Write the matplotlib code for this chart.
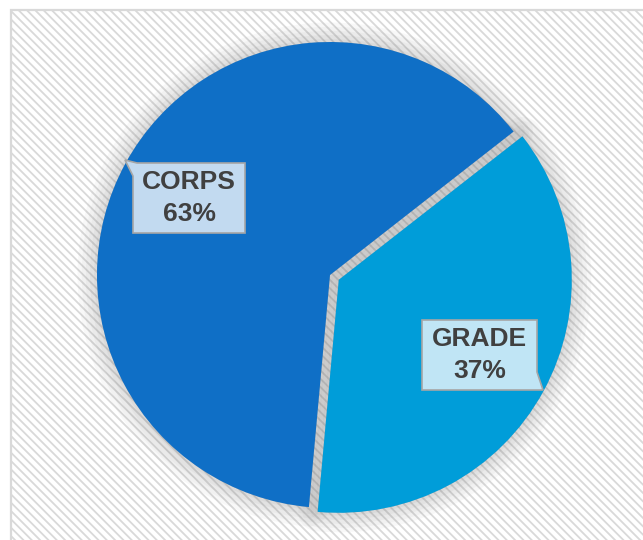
import matplotlib
matplotlib.use("Agg")
import matplotlib.pyplot as plt
from matplotlib.patches import Wedge, Rectangle, Polygon

# data
categories = ["CORPS", "GRADE"]
shares = [63, 37]
colors = ["#0F6FC6", "#009DD9"]
box_colors = ["#C2DAF0", "#C0E5F5"]

W, H = 643, 540
plt.rcParams["hatch.color"] = "#EFEFEF"
plt.rcParams["hatch.linewidth"] = 1.3

fig = plt.figure(figsize=(W / 100, H / 100), dpi=100)
ax = fig.add_axes([0, 0, 1, 1])

def py(y):
    # screen y (from top) -> data y
    return H - y

# plot area: hatched background with a light grey border
ax.add_patch(Rectangle((11, py(H + 20)), W + 20, H + 10, facecolor="white",
                       edgecolor="#D9D9D9", linewidth=1.6, hatch="\\\\\\\\", zorder=0))

cx, cy, r = 330, py(275), 233
wedges, _ = ax.pie(shares, colors=colors, startangle=-95.2, counterclock=False,
                   explode=[0, 10], center=(cx, cy), radius=r, frame=True,
                   wedgeprops=dict(linewidth=0, zorder=3))
ax.set_xlim(0, W)
ax.set_ylim(0, H)
ax.set_aspect("equal")
ax.axis("off")

# soft shadow behind each slice
for w in wedges:
    for lw, a in [(28, 0.05), (22, 0.05), (16, 0.06), (10, 0.07), (4, 0.08)]:
        ax.add_patch(Wedge(w.center, w.r, w.theta1, w.theta2, facecolor="#7F7F7F",
                           edgecolor="#7F7F7F", linewidth=lw, alpha=a,
                           joinstyle="round", zorder=2))

# callout labels
boxes = [
    # box left, top, right, bottom (screen px) and pointer points
    dict(x0=133, y0=163, x1=245, y1=233, ptr=[(133, 176), (125, 160), (137, 163)]),
    dict(x0=422, y0=320, x1=537, y1=390, ptr=[(537, 372), (543, 390), (532, 390)]),
]
for name, val, bc, b in zip(categories, shares, box_colors, boxes):
    x0, y0, x1, y1 = b["x0"], b["y0"], b["x1"], b["y1"]
    if b["ptr"][0][0] == x0:
        pts = [(x0, y1), (x1, y1), (x1, y0), b["ptr"][2], b["ptr"][1], b["ptr"][0]]
    else:
        pts = [(x0, y0), (x1, y0), b["ptr"][0], b["ptr"][1], b["ptr"][2], (x0, y1)]
    ax.add_patch(Polygon([(x, py(y)) for x, y in pts], closed=True, facecolor=bc,
                         edgecolor="#A6A6A6", linewidth=1.2, zorder=5))
    ax.text((x0 + x1) / 2, py((y0 + y1) / 2), f"{name}\n{val}%", ha="center",
            va="center", fontsize=19, fontweight="bold", color="#404040",
            family="Liberation Sans", linespacing=1.4, zorder=6)

fig.savefig("out.png", dpi=100)
